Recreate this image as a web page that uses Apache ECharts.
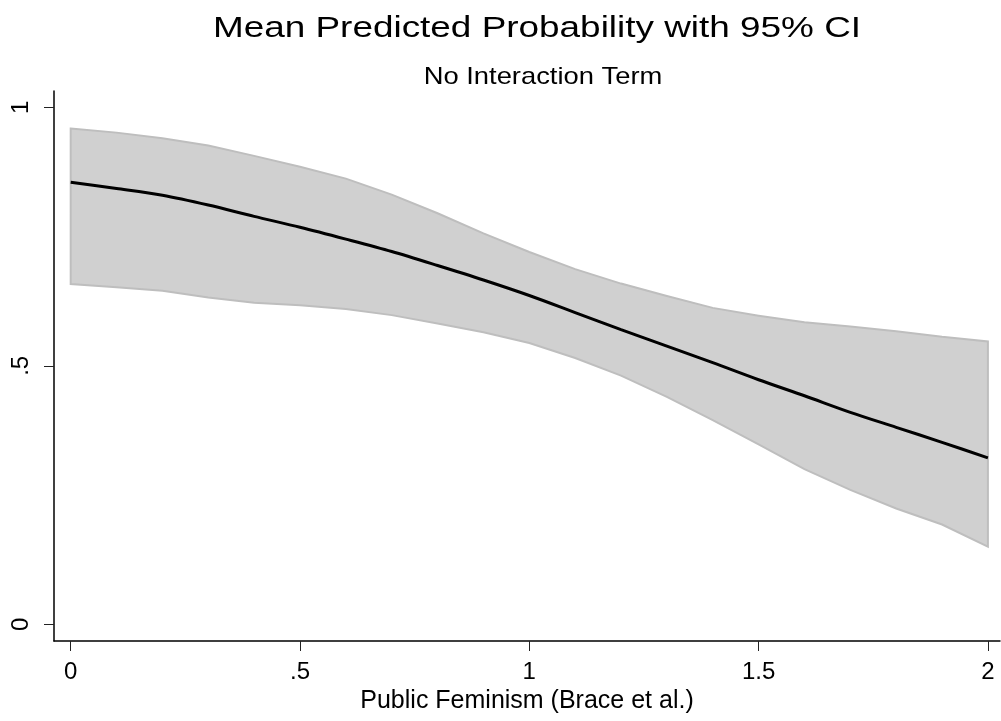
<!DOCTYPE html>
<html>
<head>
<meta charset="utf-8">
<script src="https://cdn.jsdelivr.net/npm/echarts@6/dist/echarts.min.js"></script>
<style>
html,body{margin:0;padding:0;background:#fff;}
#chart{width:1001px;height:721px;}
</style>
</head>
<body>
<div id="chart"></div>
<script>
// x grid (Public Feminism)
const xVals = [0, 0.1, 0.2, 0.3, 0.4, 0.5, 0.6, 0.7, 0.8, 0.9, 1.0, 1.1, 1.2, 1.3, 1.4, 1.5, 1.6, 1.7, 1.8, 1.9, 2.0];
// mean predicted probability
const meanProb = [0.855, 0.843, 0.830, 0.811, 0.789, 0.768, 0.745, 0.721, 0.694, 0.666, 0.636, 0.603, 0.570, 0.538, 0.506, 0.473, 0.442, 0.410, 0.381, 0.352, 0.322];
// upper 95% CI
const upperCI = [0.959, 0.951, 0.940, 0.926, 0.906, 0.885, 0.862, 0.831, 0.795, 0.756, 0.720, 0.687, 0.659, 0.635, 0.612, 0.597, 0.584, 0.576, 0.567, 0.556, 0.547];
// lower 95% CI
const lowerCI = [0.658, 0.652, 0.645, 0.632, 0.622, 0.617, 0.610, 0.598, 0.582, 0.565, 0.544, 0.515, 0.481, 0.440, 0.395, 0.348, 0.300, 0.260, 0.224, 0.193, 0.150];
// ticks
const xTicks = [0, 0.5, 1, 1.5, 2];
const xTickLabels = ['0', '.5', '1', '1.5', '2'];
const yTicks = [0, 0.5, 1];
const yTickLabels = ['0', '.5', '1'];
const titleText = 'Mean Predicted Probability with 95% CI';
const subtitleText = 'No Interaction Term';
const xAxisTitle = 'Public Feminism (Brace et al.)';

const FONT = "'Liberation Sans', Arial, Helvetica, sans-serif";

function labelFor(ticks, labels) {
  return function (v) {
    for (let i = 0; i < ticks.length; i++) {
      if (Math.abs(ticks[i] - v) < 1e-9) return labels[i];
    }
    return '';
  };
}

const chart = echarts.init(document.getElementById('chart'), null, {renderer: 'canvas'});
chart.setOption({
  animation: false,
  backgroundColor: '#ffffff',
  graphic: [
    {
      type: 'text', x: 537, y: 14, scaleX: 1.23, silent: true,
      style: {text: titleText, font: '30px ' + FONT, fill: '#000', align: 'center', verticalAlign: 'top'}
    },
    {
      type: 'text', x: 543, y: 65, scaleX: 1.14, silent: true,
      style: {text: subtitleText, font: '24px ' + FONT, fill: '#000', align: 'center', verticalAlign: 'top'}
    }
  ],
  grid: {left: 54, right: 1, top: 91, bottom: 80, containLabel: false},
  xAxis: {
    type: 'value',
    min: -0.0364, max: 2.0264,
    name: xAxisTitle,
    nameLocation: 'middle',
    nameGap: 42,
    nameTextStyle: {fontFamily: FONT, fontSize: 25, color: '#000'},
    axisLine: {show: true, onZero: false, lineStyle: {color: '#000', width: 1.5}},
    axisTick: {show: true, length: 10, customValues: xTicks, lineStyle: {color: '#222', width: 1}},
    axisLabel: {
      show: true, customValues: xTicks, margin: 19,
      formatter: labelFor(xTicks, xTickLabels),
      fontFamily: FONT, fontSize: 24, color: '#000'
    },
    splitLine: {show: false}
  },
  yAxis: {
    type: 'value',
    min: -0.0323, max: 1.0315,
    axisLine: {show: true, onZero: false, lineStyle: {color: '#000', width: 1.5}},
    axisTick: {show: true, length: 10, customValues: yTicks, lineStyle: {color: '#222', width: 1}},
    axisLabel: {
      show: true, customValues: yTicks, margin: 21, rotate: 90,
      formatter: labelFor(yTicks, yTickLabels),
      fontFamily: FONT, fontSize: 24, color: '#000'
    },
    splitLine: {show: false}
  },
  series: [
    {
      type: 'custom',
      coordinateSystem: 'cartesian2d',
      silent: true,
      z: 1,
      data: [[xVals[0], lowerCI[0]]],
      renderItem: function (params, api) {
        const pts = [];
        for (let i = 0; i < xVals.length; i++) pts.push(api.coord([xVals[i], upperCI[i]]));
        for (let i = xVals.length - 1; i >= 0; i--) pts.push(api.coord([xVals[i], lowerCI[i]]));
        return {
          type: 'polygon',
          shape: {points: pts},
          style: {fill: '#d0d0d0', stroke: '#bebebe', lineWidth: 2}
        };
      }
    },
    {
      type: 'line',
      z: 3,
      data: xVals.map((x, i) => [x, meanProb[i]]),
      smooth: 0.3,
      showSymbol: false,
      lineStyle: {color: '#000', width: 3},
      silent: true
    }
  ]
});
</script>
</body>
</html>
